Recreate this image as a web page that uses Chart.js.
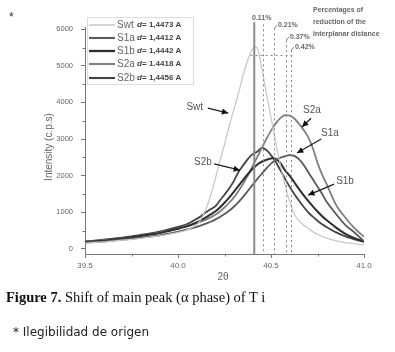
<!DOCTYPE html>
<html>
<head>
<meta charset="utf-8">
<script src="https://cdn.jsdelivr.net/npm/chart.js@4.4.1/dist/chart.umd.min.js"></script>
<style>
    body { margin: 0; background: #fff; }
    #wrap { position: relative; width: 395px; height: 352px; overflow: hidden; }
    #xrdChart { position: absolute; left: 0; top: 0; }
    .star { position: absolute; left: 9px; top: 10px; font: 12px 'Liberation Sans', Arial, sans-serif; color: #333; }
    .caption { position: absolute; left: 6px; top: 289px; font: 14.5px 'Liberation Serif', 'Times New Roman', serif; color: #111; white-space: nowrap; }
    .note { position: absolute; left: 13px; top: 325px; font: 12px 'DejaVu Sans', sans-serif; color: #222; white-space: nowrap; }
</style>
</head>
<body>
<div id="wrap">
    <canvas id="xrdChart" width="395" height="352"></canvas>
    <div class="star">*</div>
    <div class="caption"><b>Figure 7.</b> Shift of main peak (α phase) of T i</div>
    <div class="note">* Ilegibilidad de origen</div>
</div>
<script>
// DATA (2 theta in degrees, intensity in c.p.s)
const twoTheta = [
    39.50, 39.55, 39.60, 39.65, 39.70, 39.75, 39.80, 39.85, 39.90, 39.95, 40.00, 40.05, 40.10,
    40.125, 40.15, 40.175, 40.20, 40.225, 40.25, 40.275, 40.30, 40.325, 40.35, 40.375, 40.40, 40.425,
    40.45, 40.475, 40.50, 40.525, 40.55, 40.575, 40.60, 40.625, 40.65, 40.675, 40.70, 40.725, 40.75,
    40.775, 40.80, 40.85, 40.90, 40.95, 41.00
];
const swt = [
    160, 175, 190, 215, 240, 260, 290, 320, 355, 400, 450, 520, 660,
    820, 1080, 1450, 1900, 2400, 2850, 3350, 3800, 4250, 4750, 5150, 5450, 5500,
    4950, 4250, 3600, 2900, 2300, 1750, 1300, 950, 770, 650, 560, 470, 400,
    340, 290, 220, 170, 140, 110
];
const s1a = [
    170, 185, 200, 225, 250, 275, 305, 335, 370, 415, 470, 530, 600,
    640, 690, 740, 800, 870, 950, 1040, 1150, 1280, 1420, 1580, 1740, 1900,
    2050, 2200, 2330, 2420, 2490, 2530, 2560, 2540, 2450, 2300, 2100, 1900, 1700,
    1500, 1280, 950, 650, 440, 210
];
const s1b = [
    190, 205, 225, 255, 285, 315, 350, 390, 430, 490, 550, 620, 720,
    790, 860, 940, 1020, 1130, 1260, 1400, 1560, 1720, 1880, 2040, 2180, 2300,
    2380, 2430, 2470, 2460, 2350, 2150, 2000, 1820, 1640, 1470, 1310, 1160, 1020,
    890, 780, 580, 410, 290, 200
];
const s2a = [
    200, 215, 235, 260, 290, 320, 355, 395, 440, 490, 550, 620, 700,
    750, 800, 860, 930, 1020, 1130, 1260, 1400, 1580, 1780, 2000, 2250, 2500,
    2750, 3000, 3230, 3420, 3570, 3650, 3640, 3560, 3420, 3250, 3050, 2750, 2350,
    2030, 1760, 1200, 850, 560, 330
];
const s2b = [
    210, 225, 250, 280, 310, 340, 380, 420, 470, 530, 600, 680, 820,
    900, 1000, 1080, 1160, 1320, 1480, 1650, 1850, 2100, 2280, 2450, 2580, 2650,
    2760, 2700, 2560, 2380, 2150, 1920, 1700, 1500, 1320, 1150, 1000, 880, 770,
    670, 590, 450, 340, 260, 190
];
const seriesNames = ['Swt', 'S1a', 'S1b', 'S2a', 'S2b'];
const dSpacings = ['1,4473', '1,4412', '1,4442', '1.4418', '1,4456'];
const xTickValues = [39.5, 40.0, 40.5, 41.0];
const yTickValues = [0, 1000, 2000, 3000, 4000, 5000, 6000];
const refPeak = 40.41;
const shiftPeaks = [40.457, 40.516, 40.58, 40.607];
const shiftLabels = ['0.11%', '0.21%', '0.37%', '0.42%'];

// STYLES
const lineColors = ['#c6c6c6', '#5a5a5a', '#2e2e2e', '#808080', '#444444'];
const lineWidths = [1.2, 1.8, 2, 1.8, 1.8];

// annotation places (data units)
const curveNotes = [
    { text: 'Swt', tx: 40.09, ty: 3870, from: [40.16, 3845], to: [40.27, 3710] },
    { text: 'S2a', tx: 40.72, ty: 3790, from: [40.715, 3570], to: [40.667, 3330] },
    { text: 'S1a', tx: 40.817, ty: 3160, from: [40.77, 3000], to: [40.64, 2620] },
    { text: 'S2b', tx: 40.134, ty: 2370, from: [40.194, 2320], to: [40.333, 2150] },
    { text: 'S1b', tx: 40.898, ty: 1850, from: [40.839, 1770], to: [40.70, 1470] }
];
const refTop = 6190;
const shiftTops = [6135, 6025, 5700, 5430];

const allSeries = [swt, s1a, s1b, s2a, s2b];
const datasets = allSeries.map(function (vals, i) {
    return {
        label: seriesNames[i],
        data: vals.map(function (v, k) { return { x: twoTheta[k], y: v }; }),
        borderColor: lineColors[i],
        borderWidth: lineWidths[i],
        pointRadius: 0,
        tension: 0.3,
        fill: false
    };
});

function arrow(ctx, x1, y1, x2, y2) {
    ctx.beginPath();
    ctx.moveTo(x1, y1);
    ctx.lineTo(x2, y2);
    ctx.stroke();
    const a = Math.atan2(y2 - y1, x2 - x1);
    ctx.beginPath();
    ctx.moveTo(x2, y2);
    ctx.lineTo(x2 - 7 * Math.cos(a - 0.45), y2 - 7 * Math.sin(a - 0.45));
    ctx.lineTo(x2 - 7 * Math.cos(a + 0.45), y2 - 7 * Math.sin(a + 0.45));
    ctx.closePath();
    ctx.fill();
}

// OVERLAY: minor ticks, peak lines, notes, legend, axis titles
const overlay = {
    id: 'overlay',
    afterDraw(chart) {
        const ctx = chart.ctx;
        const xs = chart.scales.x;
        const ys = chart.scales.y;
        const area = chart.chartArea;
        ctx.save();

        // minor ticks
        ctx.strokeStyle = '#777';
        ctx.lineWidth = 1;
        ctx.beginPath();
        for (let v = 39.75; v < 41; v += 0.5) {
            const px = Math.round(xs.getPixelForValue(v)) + 0.5;
            ctx.moveTo(px, area.bottom);
            ctx.lineTo(px, area.bottom + 2.5);
        }
        for (let v = 500; v < 6100; v += 1000) {
            const py = Math.round(ys.getPixelForValue(v)) + 0.5;
            ctx.moveTo(area.left - 2.5, py);
            ctx.lineTo(area.left, py);
        }
        ctx.stroke();

        // reference peak (solid) and shifted peaks (dotted)
        ctx.strokeStyle = '#8a8a8a';
        ctx.lineWidth = 2;
        let px = xs.getPixelForValue(refPeak);
        ctx.beginPath();
        ctx.moveTo(px, ys.getPixelForValue(refTop));
        ctx.lineTo(px, area.bottom);
        ctx.stroke();

        ctx.lineWidth = 1;
        ctx.strokeStyle = '#888';
        ctx.setLineDash([2, 3]);
        shiftPeaks.forEach(function (v, i) {
            const p = Math.round(xs.getPixelForValue(v)) + 0.5;
            ctx.beginPath();
            ctx.moveTo(p, ys.getPixelForValue(shiftTops[i]));
            ctx.lineTo(p, area.bottom);
            ctx.stroke();
        });
        // horizontal dotted guide at the top
        ctx.beginPath();
        const hy = Math.round(ys.getPixelForValue(5300)) + 0.5;
        ctx.moveTo(xs.getPixelForValue(40.39), hy);
        ctx.lineTo(xs.getPixelForValue(40.615), hy);
        ctx.stroke();
        ctx.setLineDash([]);

        // percentage labels
        ctx.fillStyle = '#666';
        ctx.strokeStyle = '#777';
        ctx.font = 'bold 7px "Liberation Sans", Arial, sans-serif';
        ctx.textBaseline = 'middle';
        ctx.textAlign = 'left';
        shiftLabels.forEach(function (t, i) {
            const lx = xs.getPixelForValue(shiftPeaks[i]);
            const ly = ys.getPixelForValue(shiftTops[i]);
            if (i === 0) {
                ctx.fillText(t, lx - 11, ly - 6);
            } else {
                ctx.fillText(t, lx + 4, ly - 3);
                ctx.beginPath();
                ctx.moveTo(lx + 3, ly - 3);
                ctx.lineTo(lx + 0.5, ly);
                ctx.stroke();
            }
        });

        // explanatory text top right
        ctx.font = 'bold 7px "Liberation Sans", Arial, sans-serif';
        ctx.fillStyle = '#666';
        ['Percentages of', 'reduction of the', 'interplanar distance'].forEach(function (t, i) {
            ctx.fillText(t, 313, 10 + i * 12);
        });

        // curve notes with arrows
        ctx.font = '10px "Liberation Sans", Arial, sans-serif';
        ctx.textAlign = 'center';
        ctx.lineWidth = 1.3;
        curveNotes.forEach(function (n) {
            ctx.fillStyle = '#555';
            ctx.fillText(n.text, xs.getPixelForValue(n.tx), ys.getPixelForValue(n.ty));
            ctx.strokeStyle = '#222';
            ctx.fillStyle = '#111';
            arrow(ctx,
                xs.getPixelForValue(n.from[0]), ys.getPixelForValue(n.from[1]),
                xs.getPixelForValue(n.to[0]), ys.getPixelForValue(n.to[1]));
        });

        // legend box
        ctx.strokeStyle = '#ddd';
        ctx.lineWidth = 1;
        ctx.strokeRect(87.5, 17.5, 106, 67);
        const rows = [25, 38, 51, 64, 78];
        ctx.textAlign = 'left';
        seriesNames.forEach(function (name, i) {
            ctx.strokeStyle = lineColors[i];
            ctx.lineWidth = lineWidths[i] + 0.3;
            ctx.beginPath();
            ctx.moveTo(89, rows[i]);
            ctx.lineTo(115, rows[i]);
            ctx.stroke();
            ctx.fillStyle = '#666';
            ctx.font = '10px "Liberation Sans", Arial, sans-serif';
            ctx.fillText(name, 117, rows[i]);
            ctx.fillStyle = '#444';
            ctx.font = 'italic bold 8px "Liberation Sans", Arial, sans-serif';
            ctx.fillText('d', 137, rows[i]);
            ctx.font = 'bold 8px "Liberation Sans", Arial, sans-serif';
            ctx.fillText('= ' + dSpacings[i] + ' A', 142, rows[i]);
        });

        // axis titles
        ctx.fillStyle = '#666';
        ctx.font = '10px "Liberation Sans", Arial, sans-serif';
        ctx.textAlign = 'center';
        ctx.fillText('2θ', 223, 277);
        ctx.translate(49, 147);
        ctx.rotate(-Math.PI / 2);
        ctx.fillText('Intensity (c.p.s)', 0, 0);

        ctx.restore();
    }
};

// XRD CHART
const xrdChart = new Chart(document.getElementById('xrdChart'), {
    type: 'line',
    data: { datasets: datasets },
    options: {
        responsive: false,
        animation: false,
        layout: { padding: { left: 0, top: 27, right: 31, bottom: 0 } },
        plugins: {
            legend: { display: false },
            tooltip: { enabled: false }
        },
        scales: {
            x: {
                type: 'linear',
                min: 39.5,
                max: 41.0,
                afterBuildTicks: function (scale) {
                    scale.ticks = xTickValues.map(function (v) { return { value: v }; });
                },
                afterFit: function (scale) { scale.height = 98; },
                border: { color: '#777', width: 1 },
                grid: { drawOnChartArea: false, tickLength: 4, color: '#777' },
                ticks: {
                    color: '#666',
                    padding: 3,
                    maxRotation: 0,
                    autoSkip: false,
                    font: { size: 8, family: '"Liberation Sans", Arial, sans-serif' },
                    callback: function (v) { return Number(v).toFixed(1); }
                }
            },
            y: {
                min: -140,
                max: 6060,
                afterBuildTicks: function (scale) {
                    scale.ticks = yTickValues.map(function (v) { return { value: v }; });
                },
                afterFit: function (scale) { scale.width = 85; },
                border: { color: '#777', width: 1 },
                grid: { drawOnChartArea: false, tickLength: 4, color: '#777' },
                ticks: {
                    color: '#666',
                    padding: 8,
                    autoSkip: false,
                    font: { size: 7.5, family: '"Liberation Sans", Arial, sans-serif' },
                    callback: function (v) { return String(v); }
                }
            }
        }
    },
    plugins: [overlay]
});
</script>
</body>
</html>
